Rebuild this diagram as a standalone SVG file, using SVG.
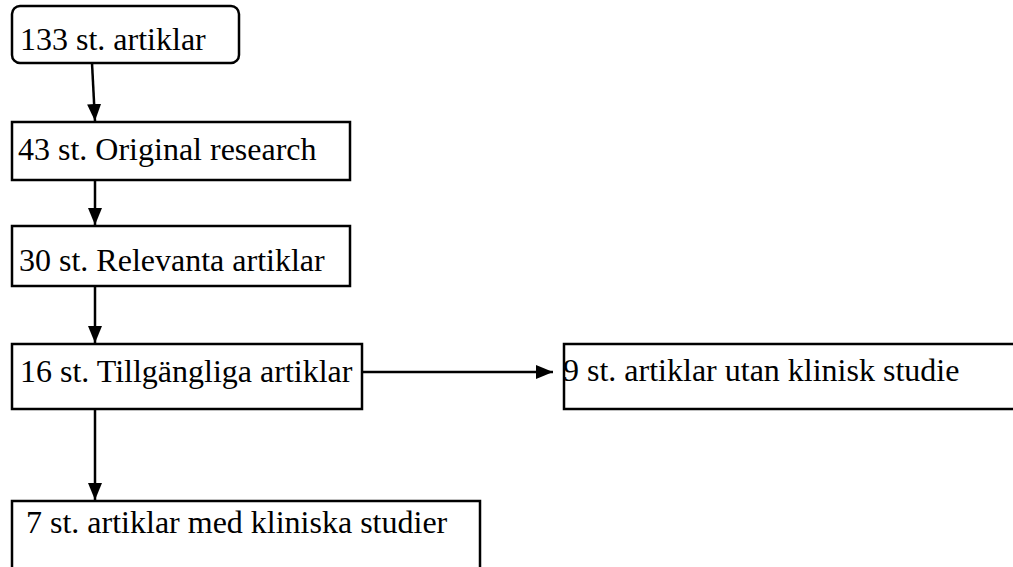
<svg xmlns="http://www.w3.org/2000/svg" width="1013" height="567" viewBox="0 0 1013 567">
<style>
.box{fill:#fff;stroke:#000;stroke-width:2.5}
.lbl{font-family:"Liberation Serif","Times New Roman",serif;font-size:32px;fill:#000}
.edge{stroke:#000;stroke-width:2.5;fill:none}
</style>
<defs>
<marker id="ah" viewBox="0 0 17 14" refX="17" refY="7" markerWidth="17" markerHeight="14" markerUnits="userSpaceOnUse" orient="auto">
<path d="M0,0 L17,7 L0,14 Z" fill="#000"/>
</marker>
</defs>
<rect width="1013" height="567" fill="#fff"/>
<g id="n1"><rect class="box" x="12" y="6" width="227" height="57" rx="8"/><text class="lbl" x="20" y="50">133 st. artiklar</text></g>
<g id="n2"><rect class="box" x="12" y="122" width="338" height="58"/><text class="lbl" x="18" y="160">43 st. Original research</text></g>
<g id="n3"><rect class="box" x="12" y="226" width="338" height="60"/><text class="lbl" x="19" y="271">30 st. Relevanta artiklar</text></g>
<g id="n4"><rect class="box" x="12" y="344" width="350" height="65"/><text class="lbl" x="20" y="382">16 st. Tillgängliga artiklar</text></g>
<g id="n5"><rect class="box" x="564" y="344" width="460" height="65"/><text class="lbl" x="563" y="381">9 st. artiklar utan klinisk studie</text></g>
<g id="n6"><rect class="box" x="12" y="501" width="468" height="80"/><text class="lbl" x="26" y="533">7 st. artiklar med kliniska studier</text></g>
<g id="edges">
<line class="edge" x1="92" y1="63" x2="95" y2="121" marker-end="url(#ah)"/>
<line class="edge" x1="95" y1="180" x2="95" y2="225" marker-end="url(#ah)"/>
<line class="edge" x1="95" y1="286" x2="95" y2="343" marker-end="url(#ah)"/>
<line class="edge" x1="95" y1="409" x2="95" y2="500" marker-end="url(#ah)"/>
<line class="edge" x1="362" y1="372" x2="553" y2="372" marker-end="url(#ah)"/>
</g>
</svg>
